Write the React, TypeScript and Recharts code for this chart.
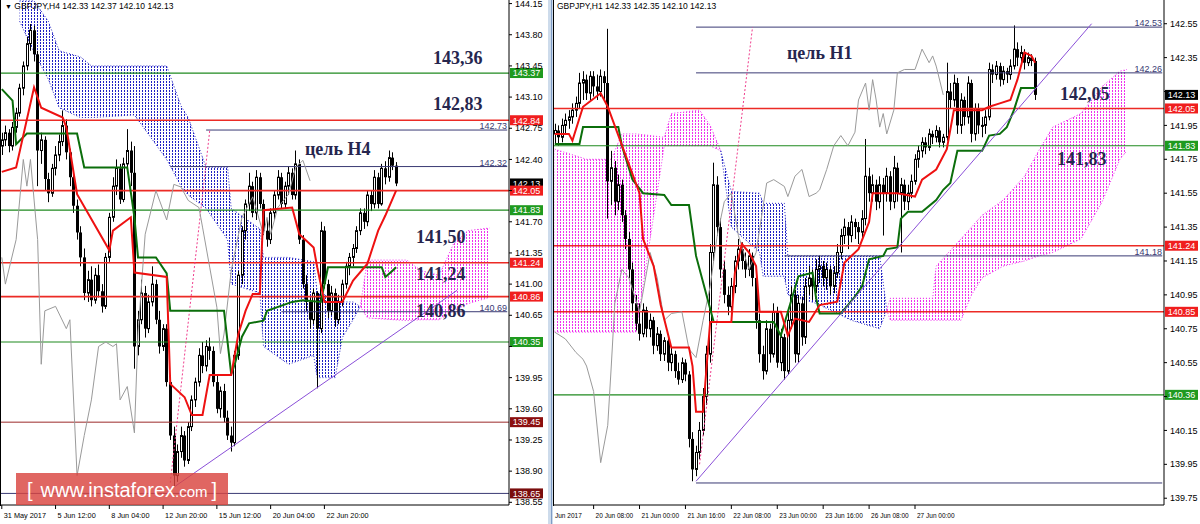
import React from "react";
import { ComposedChart, Bar, Line, Area, XAxis, YAxis, ReferenceLine } from "recharts";

type Candle = [number, number, number, number];
type Pt = [number, number];
type Band = [number, number, number];

// ---------- left panel (H4) ----------
const LEFT_SLOTS = 142;
const LEFT_CANDLES: Candle[] = [
  [142.55, 142.7, 142.45, 142.62], [142.62, 142.78, 142.55, 142.7], [142.7, 142.74, 142.48, 142.55], [142.55, 142.82, 142.5, 142.76],
  [142.76, 142.98, 142.7, 142.92], [142.92, 143.25, 142.88, 143.2], [143.2, 143.5, 143.12, 143.45], [143.45, 143.78, 143.4, 143.7],
  [143.7, 143.92, 143.62, 143.85], [143.85, 143.9, 143.5, 143.58], [143.58, 143.62, 142.1, 142.5], [142.5, 142.7, 142.35, 142.62],
  [142.62, 142.66, 142.05, 142.18], [142.18, 142.25, 141.92, 142.02], [142.02, 142.35, 141.98, 142.3], [142.3, 142.55, 142.22, 142.45],
  [142.45, 142.68, 142.38, 142.6], [142.6, 142.95, 142.55, 142.78], [142.78, 142.85, 142.4, 142.48], [142.48, 142.52, 142.1, 142.2],
  [142.2, 142.28, 141.8, 141.88], [141.88, 141.95, 141.5, 141.58], [141.58, 141.65, 141.2, 141.3], [141.3, 141.4, 140.82, 140.9],
  [140.9, 141.15, 140.8, 141.05], [141.05, 141.2, 140.75, 140.82], [140.82, 141.18, 140.78, 141.1], [141.1, 141.22, 140.85, 140.92],
  [140.92, 141.0, 140.68, 140.75], [140.75, 141.35, 140.72, 141.3], [141.3, 141.8, 141.25, 141.75], [141.75, 142.2, 141.7, 142.1],
  [142.1, 142.4, 142.0, 142.3], [142.3, 142.35, 141.9, 141.95], [141.95, 142.42, 141.92, 142.35], [142.35, 142.74, 142.28, 142.5],
  [142.5, 142.6, 142.1, 142.25], [142.25, 142.55, 140.05, 140.3], [140.3, 140.7, 140.2, 140.6], [140.6, 141.05, 140.55, 140.9],
  [140.9, 140.98, 140.4, 140.5], [140.5, 140.88, 140.45, 140.8], [140.8, 141.2, 140.75, 141.0], [141.0, 141.05, 140.55, 140.6],
  [140.6, 140.7, 140.22, 140.3], [140.3, 140.55, 140.25, 140.5], [140.5, 140.55, 139.85, 139.9], [139.9, 139.98, 139.25, 139.3],
  [139.3, 139.4, 138.73, 138.85], [138.85, 139.2, 138.78, 139.12], [139.12, 139.4, 139.05, 139.3], [139.3, 139.35, 138.95, 139.02],
  [139.02, 139.45, 138.98, 139.4], [139.4, 139.75, 139.35, 139.7], [139.7, 139.95, 139.62, 139.9], [139.9, 140.28, 139.85, 140.2],
  [140.2, 140.35, 140.0, 140.08], [140.08, 140.37, 140.02, 140.3], [140.3, 140.4, 140.15, 140.25], [140.25, 140.3, 139.85, 139.9],
  [139.9, 139.98, 139.55, 139.6], [139.6, 139.85, 139.5, 139.8], [139.8, 139.88, 139.45, 139.5], [139.5, 139.58, 139.25, 139.3],
  [139.3, 139.4, 139.12, 139.22], [139.22, 140.25, 139.18, 140.2], [140.2, 141.15, 140.15, 141.1], [141.1, 141.65, 141.0, 141.6],
  [141.6, 141.95, 141.5, 141.9], [141.9, 142.25, 141.82, 142.1], [142.1, 142.15, 141.75, 141.8], [141.8, 142.28, 141.72, 142.2],
  [142.2, 142.25, 141.85, 141.9], [141.9, 141.95, 141.55, 141.6], [141.6, 141.72, 141.42, 141.5], [141.5, 141.85, 141.45, 141.8],
  [141.8, 142.05, 141.72, 142.0], [142.0, 142.28, 141.95, 142.2], [142.2, 142.25, 141.85, 141.9], [141.9, 142.15, 141.85, 142.1],
  [142.1, 142.32, 142.0, 142.25], [142.25, 142.3, 141.95, 142.0], [142.0, 142.5, 141.95, 142.35], [142.35, 142.4, 141.45, 141.5],
  [141.5, 141.55, 140.95, 141.0], [141.0, 141.1, 140.7, 140.8], [140.8, 140.85, 140.5, 140.6], [140.6, 140.95, 140.55, 140.9],
  [140.9, 140.92, 139.83, 140.5], [140.5, 141.7, 140.45, 141.6], [141.6, 141.65, 140.95, 141.0], [141.0, 141.05, 140.62, 140.7],
  [140.7, 140.98, 140.65, 140.9], [140.9, 140.95, 140.52, 140.6], [140.6, 140.88, 140.55, 140.8], [140.8, 141.05, 140.75, 141.0],
  [141.0, 141.25, 140.95, 141.2], [141.2, 141.35, 141.1, 141.3], [141.3, 141.45, 141.2, 141.4], [141.4, 141.65, 141.35, 141.6],
  [141.6, 141.85, 141.55, 141.8], [141.8, 141.85, 141.62, 141.7], [141.7, 142.05, 141.65, 142.0], [142.0, 142.05, 141.82, 141.9],
  [141.9, 142.28, 141.85, 142.2], [142.2, 142.25, 141.85, 141.9], [141.9, 142.35, 141.88, 142.3], [142.3, 142.38, 142.12, 142.2],
  [142.2, 142.5, 142.15, 142.42], [142.42, 142.48, 142.28, 142.33], [142.33, 142.37, 142.1, 142.13],
];
const LEFT_TENKAN: Pt[] = [
  [0, 142.26], [4, 142.31], [9, 143.21], [11, 142.98], [17, 142.87], [18, 142.76], [21, 142.01], [30, 141.38], [31, 141.6],
  [36, 141.75], [37, 141.13], [46, 141.08], [47, 139.88], [51, 139.73], [53, 139.53], [56, 139.53], [58, 139.98], [64, 139.98],
  [66, 140.44], [68, 140.7], [70, 140.89], [72, 140.89], [73, 141.83], [81, 141.86], [83, 141.56], [87, 141.41], [88, 141.19],
  [90, 140.8], [95, 140.8], [98, 141.04], [102, 141.23], [105, 141.6], [107, 141.77], [110, 142.05],
];
const LEFT_KIJUN: Pt[] = [
  [0, 143.19], [3, 143.06], [4, 142.57], [7, 142.69], [21, 142.69], [23, 142.31], [35, 142.31], [37, 141.75], [38, 141.3],
  [43, 141.3], [46, 141.12], [47, 140.7], [62, 140.7], [64, 139.99], [65, 140.1], [67, 140.41], [69, 140.56], [73, 140.59],
  [74, 140.7], [81, 140.8], [84, 140.82], [89, 140.8], [91, 141.19], [106, 141.19], [107, 141.08], [109, 141.15], [110, 141.19],
];
const LEFT_CHIKOU: Pt[] = [
  [0, 141.3], [1, 141.0], [4, 141.5], [6, 142.4], [7, 142.1], [8, 142.4], [10, 141.5], [11, 140.1], [12, 140.7], [15, 140.75],
  [18, 140.5], [19, 140.6], [21, 138.85], [23, 139.3], [25, 139.7], [27, 140.3], [29, 140.35], [31, 140.3], [32, 140.33],
  [33, 139.7], [35, 139.85], [37, 139.33], [38, 140.45], [40, 141.56], [43, 142.05], [46, 141.72], [48, 142.12], [50, 142.09],
  [52, 141.94], [55, 141.86], [56, 141.64], [58, 141.19], [60, 140.74], [61, 140.22], [62, 140.44], [64, 141.15], [67, 141.75],
  [70, 141.98], [73, 141.56], [74, 141.75], [75, 141.56], [77, 141.86], [80, 142.01], [82, 142.31], [84, 142.39], [86, 142.16],
];
// [bar, upper span, lower span]
const LEFT_CLOUD_DOWN: Band[] = [
  [5, 144.18, 143.95], [9, 144.18, 143.6], [13, 143.95, 143.3], [16, 143.62, 142.98], [22, 143.55, 142.87], [25, 143.45, 142.87],
  [37, 143.45, 142.9], [46, 143.45, 142.4], [50, 143.0, 142.1], [52, 142.87, 142.0], [57, 142.31, 141.85], [63, 142.31, 141.5],
  [64, 141.85, 141.0], [72, 141.62, 140.9], [73, 141.3, 140.3], [80, 141.3, 140.1], [87, 141.25, 140.2], [88, 140.9, 139.95],
  [93, 140.85, 139.95], [95, 140.8, 140.4], [98, 140.8, 140.6], [100, 140.75, 140.75],
];
const LEFT_CLOUD_UP: Band[] = [
  [100, 140.75, 140.75], [102, 141.27, 140.62], [113, 141.27, 140.59], [117, 141.15, 140.6], [122, 141.1, 140.6],
  [126, 141.45, 140.7], [130, 141.6, 140.78], [136, 141.63, 140.85],
];
const LEFT_TICKS = [144.15, 143.8, 143.45, 143.1, 142.75, 142.4, 142.05, 141.7, 141.35, 141.0, 140.65, 140.3, 139.95, 139.6, 139.25, 138.9, 138.55];
const LEFT_HIDDEN_TICKS = [142.05, 140.3];
const LEFT_DATE_AT = [0, 15, 30, 45, 60, 75, 90];
const LEFT_DATES = ["31 May 2017", "5 Jun 12:00", "8 Jun 04:00", "12 Jun 20:00", "15 Jun 12:00", "20 Jun 04:00", "22 Jun 20:00"];
const LEFT_GREEN = [143.37, 141.83, 140.35];
const LEFT_RED = [142.84, 142.05, 141.24, 140.86];
const LEFT_MAROON = [139.45];
const LEFT_NAVY_FULL = [138.65];
const LEFT_NAVY_FROM: Pt[] = [[142.73, 57], [142.32, 47], [140.69, 78]];
const LEFT_TREND: [Pt, Pt] = [[48, 138.72], [127, 140.93]];
const LEFT_PINK_RAY: [Pt, Pt] = [[47, 138.77], [58, 142.72]];

// ---------- right panel (H1) ----------
const RIGHT_SLOTS = 173;
const RIGHT_CANDLES: Candle[] = [
  [141.9, 141.96, 141.84, 141.92], [141.92, 141.95, 141.83, 141.88], [141.88, 141.99, 141.85, 141.95], [141.95, 142.02, 141.9, 141.98],
  [141.98, 142.04, 141.93, 142.0], [142.0, 142.08, 141.96, 142.04], [142.04, 142.12, 142.0, 142.08], [142.08, 142.26, 142.05, 142.2],
  [142.2, 142.27, 142.1, 142.22], [142.22, 142.25, 142.1, 142.14], [142.14, 142.27, 142.1, 142.24], [142.24, 142.27, 142.12, 142.18],
  [142.18, 142.25, 142.1, 142.15], [142.15, 142.28, 142.12, 142.24], [142.24, 142.27, 142.1, 142.2], [142.2, 142.52, 141.4, 141.62],
  [141.62, 141.8, 141.48, 141.7], [141.7, 141.74, 141.42, 141.5], [141.5, 141.66, 141.45, 141.6], [141.6, 141.63, 141.38, 141.42],
  [141.42, 141.45, 141.22, 141.28], [141.28, 141.32, 141.05, 141.1], [141.1, 141.14, 140.85, 140.9], [140.9, 140.95, 140.74, 140.78],
  [140.78, 140.9, 140.68, 140.72], [140.72, 140.9, 140.7, 140.86], [140.86, 140.88, 140.7, 140.75], [140.75, 140.84, 140.7, 140.8],
  [140.8, 140.82, 140.6, 140.65], [140.65, 140.76, 140.62, 140.72], [140.72, 140.74, 140.56, 140.6], [140.6, 140.7, 140.56, 140.68],
  [140.68, 140.7, 140.5, 140.55], [140.55, 140.64, 140.5, 140.6], [140.6, 140.62, 140.46, 140.5], [140.5, 140.55, 140.42, 140.45],
  [140.45, 140.58, 140.43, 140.55], [140.55, 140.57, 140.44, 140.48], [140.48, 140.5, 140.05, 140.1], [140.1, 140.14, 139.85, 139.92],
  [139.92, 140.06, 139.88, 140.02], [140.02, 140.2, 139.98, 140.15], [140.15, 140.4, 140.12, 140.35], [140.35, 140.65, 140.3, 140.6],
  [140.6, 141.25, 140.55, 141.2], [141.2, 141.73, 141.15, 141.6], [141.6, 141.65, 141.3, 141.35], [141.35, 141.4, 141.05, 141.1],
  [141.1, 141.15, 140.9, 140.95], [140.95, 141.0, 140.83, 140.88], [140.88, 141.05, 140.85, 141.0], [141.0, 141.18, 140.96, 141.15],
  [141.15, 141.28, 141.1, 141.22], [141.22, 141.26, 141.1, 141.15], [141.15, 141.2, 141.05, 141.1], [141.1, 141.22, 141.06, 141.18],
  [141.18, 141.2, 141.0, 141.05], [141.05, 141.08, 140.75, 140.8], [140.8, 140.84, 140.55, 140.6], [140.6, 140.65, 140.45, 140.5],
  [140.5, 140.8, 140.48, 140.75], [140.75, 140.78, 140.55, 140.6], [140.6, 140.9, 140.58, 140.85], [140.85, 140.88, 140.52, 140.55],
  [140.55, 140.75, 140.5, 140.7], [140.7, 140.72, 140.45, 140.5], [140.5, 140.85, 140.48, 140.8], [140.8, 141.0, 140.75, 140.95],
  [140.95, 140.98, 140.55, 140.6], [140.6, 140.95, 140.55, 140.9], [140.9, 140.94, 140.65, 140.7], [140.7, 141.05, 140.66, 141.0],
  [141.0, 141.12, 140.95, 141.05], [141.05, 141.1, 140.92, 141.0], [141.0, 141.16, 140.96, 141.1], [141.1, 141.18, 141.02, 141.12],
  [141.12, 141.15, 141.0, 141.05], [141.05, 141.14, 140.98, 141.1], [141.1, 141.12, 140.95, 141.0], [141.0, 141.12, 140.96, 141.08],
  [141.08, 141.25, 141.05, 141.2], [141.2, 141.34, 141.16, 141.3], [141.3, 141.4, 141.25, 141.35], [141.35, 141.38, 141.22, 141.3],
  [141.3, 141.42, 141.26, 141.38], [141.38, 141.4, 141.28, 141.35], [141.35, 141.38, 141.25, 141.32], [141.32, 141.45, 141.28, 141.4],
  [141.4, 141.87, 141.36, 141.65], [141.65, 141.7, 141.5, 141.55], [141.55, 141.66, 141.5, 141.6], [141.6, 141.63, 141.45, 141.5],
  [141.5, 141.65, 141.46, 141.6], [141.6, 141.64, 141.3, 141.55], [141.55, 141.7, 141.5, 141.65], [141.65, 141.68, 141.45, 141.5],
  [141.5, 141.77, 141.46, 141.7], [141.7, 141.73, 141.5, 141.55], [141.55, 141.64, 141.2, 141.6], [141.6, 141.63, 141.45, 141.5],
  [141.5, 141.6, 141.45, 141.55], [141.55, 141.66, 141.52, 141.62], [141.62, 141.78, 141.6, 141.75], [141.75, 141.83, 141.7, 141.8],
  [141.8, 141.88, 141.76, 141.85], [141.85, 141.88, 141.78, 141.82], [141.82, 141.93, 141.8, 141.9], [141.9, 141.92, 141.84, 141.88],
  [141.88, 141.95, 141.85, 141.92], [141.92, 141.94, 141.82, 141.85], [141.85, 141.9, 141.82, 141.88], [141.88, 142.32, 141.86, 142.15],
  [142.15, 142.2, 142.05, 142.1], [142.1, 142.25, 142.06, 142.2], [142.2, 142.23, 141.9, 141.95], [141.95, 142.14, 141.9, 142.1],
  [142.1, 142.12, 141.95, 142.0], [142.0, 142.24, 141.96, 142.2], [142.2, 142.22, 141.85, 141.9], [141.9, 142.08, 141.86, 142.05],
  [142.05, 142.08, 141.9, 141.95], [141.95, 142.0, 141.88, 141.95], [141.95, 142.04, 141.9, 142.0], [142.0, 142.32, 141.98, 142.28],
  [142.28, 142.31, 142.2, 142.25], [142.25, 142.33, 142.22, 142.3], [142.3, 142.32, 142.18, 142.22], [142.22, 142.3, 142.19, 142.27],
  [142.27, 142.29, 142.2, 142.25], [142.25, 142.34, 142.22, 142.3], [142.3, 142.54, 142.28, 142.4], [142.4, 142.44, 142.3, 142.35],
  [142.35, 142.42, 142.32, 142.38], [142.38, 142.4, 142.28, 142.32], [142.32, 142.38, 142.3, 142.35], [142.35, 142.37, 142.3, 142.33],
  [142.33, 142.35, 142.1, 142.13],
];
const RIGHT_TENKAN: Pt[] = [
  [0, 141.9], [4, 141.9], [5, 141.86], [8, 142.06], [13, 142.14], [15, 142.06], [24, 141.55], [25, 141.28], [28, 141.12],
  [30, 140.89], [33, 140.64], [38, 140.64], [39, 140.53], [40, 140.26], [42, 140.26], [43, 140.53], [44, 140.79], [50, 140.79],
  [51, 141.08], [53, 141.25], [55, 141.2], [57, 141.12], [58, 140.85], [64, 140.85], [66, 140.71], [68, 140.81], [72, 140.79],
  [75, 140.89], [80, 140.91], [82, 141.14], [86, 141.22], [89, 141.38], [90, 141.55], [97, 141.55], [102, 141.53], [104, 141.63],
  [108, 141.69], [111, 141.81], [113, 142.04], [121, 142.04], [123, 142.06], [126, 142.08], [129, 142.1], [131, 142.22],
  [133, 142.38], [135, 142.36], [136, 142.32],
];
const RIGHT_KIJUN: Pt[] = [
  [0, 141.84], [7, 141.84], [8, 141.94], [18, 141.94], [19, 141.83], [22, 141.63], [25, 141.55], [31, 141.54], [33, 141.48],
  [38, 141.48], [40, 141.18], [45, 140.79], [62, 140.79], [64, 140.71], [69, 141.06], [73, 141.08], [74, 140.93], [75, 140.84],
  [81, 140.84], [83, 140.89], [85, 140.94], [87, 141.0], [89, 141.16], [93, 141.18], [94, 141.22], [97, 141.23], [98, 141.4],
  [100, 141.44], [104, 141.44], [108, 141.51], [110, 141.57], [112, 141.61], [114, 141.8], [121, 141.8], [123, 141.89],
  [126, 141.9], [128, 141.94], [130, 142.04], [132, 142.17], [136, 142.17],
];
const RIGHT_CHIKOU: Pt[] = [
  [0, 140.73], [3, 140.69], [6, 140.61], [8, 140.57], [9, 140.53], [11, 140.38], [13, 139.96], [15, 140.18], [16, 140.53],
  [17, 140.9], [19, 141.1], [21, 141.05], [24, 140.85], [27, 141.2], [29, 141.05], [31, 140.8], [33, 140.84], [36, 140.85],
  [38, 140.63], [40, 140.58], [42, 140.8], [44, 141.0], [46, 141.3], [48, 141.5], [50, 141.55], [52, 141.3], [55, 141.1],
  [57, 141.2], [60, 141.61], [62, 141.63], [65, 141.59], [66, 141.53], [68, 141.65], [70, 141.69], [72, 141.53], [74, 141.55],
  [75, 141.57], [77, 141.69], [79, 141.83], [81, 141.89], [83, 141.83], [85, 141.91], [86, 142.1], [88, 142.2], [89, 142.04],
  [90, 142.22], [91, 142.1], [92, 141.94], [93, 142.02], [94, 141.9], [96, 142.04], [97, 142.26], [99, 142.28], [102, 142.28],
  [104, 142.4], [106, 142.32], [107, 142.36], [108, 142.3], [110, 142.13],
];
const RIGHT_CLOUD_UP1: Band[] = [
  [0, 141.81, 140.73], [6, 141.77, 140.73], [9, 141.75, 140.73], [16, 141.75, 140.73], [19, 141.9, 140.73], [23, 141.9, 140.73],
  [31, 141.88, 141.83], [33, 142.02, 141.83], [41, 142.04, 141.83], [44, 141.95, 141.83], [47, 141.8, 141.8],
];
const RIGHT_CLOUD_DOWN: Band[] = [
  [47, 141.8, 141.8], [50, 141.56, 141.35], [58, 141.55, 141.2], [59, 141.49, 141.06], [65, 141.49, 141.06], [66, 141.18, 140.95],
  [74, 141.18, 140.9], [84, 141.18, 140.8], [92, 141.18, 140.75], [94, 140.86, 140.86],
];
const RIGHT_CLOUD_UP2: Band[] = [
  [94, 140.86, 140.86], [95, 140.93, 140.8], [107, 140.93, 140.8], [108, 141.12, 140.8], [115, 141.28, 140.8], [118, 141.35, 140.95],
  [121, 141.42, 141.05], [127, 141.51, 141.12], [133, 141.65, 141.15], [137, 141.8, 141.18], [141, 141.94, 141.2],
  [149, 142.02, 141.28], [155, 142.18, 141.5], [160, 142.27, 141.75], [162, 142.28, 141.8],
];
const RIGHT_TICKS = [142.55, 142.35, 142.15, 141.95, 141.75, 141.55, 141.35, 141.15, 140.95, 140.75, 140.55, 140.35, 140.15, 139.95, 139.75];
const RIGHT_HIDDEN_TICKS = [142.15, 140.35];
const RIGHT_DATE_AT = [11, 24, 37, 50, 63, 76, 89, 102];
const RIGHT_DATES = ["20 Jun 08:00", "21 Jun 00:00", "21 Jun 16:00", "22 Jun 08:00", "23 Jun 00:00", "23 Jun 16:00", "26 Jun 08:00", "27 Jun 00:00"];
const RIGHT_GREEN = [141.83, 140.36];
const RIGHT_RED = [142.05, 141.24, 140.85];
const RIGHT_NAVY_FROM: Pt[] = [[142.53, 40], [142.26, 40], [141.18, 65], [139.84, 40]];
const RIGHT_NAVY_NOTES = [142.53, 142.26, 141.18];
const RIGHT_TREND: [Pt, Pt] = [[40, 139.85], [152, 142.55]];
const RIGHT_PINK_RAY: [Pt, Pt] = [[41, 139.95], [56, 142.53]];

const LAST_PRICE = 142.13;

const FONT = "'Liberation Sans', Arial, sans-serif";
const RED = "#ec2b25";
const GREEN = "#1f8a1f";
const NAVY = "#3a3a74";

function buildRows(n: number, candles: Candle[], tenkan: Pt[], kijun: Pt[], chikou: Pt[], clouds: Record<string, Band[]>) {
  const rows: any[] = [];
  for (let i = 0; i < n; i++) {
    const row: any = { i };
    const k = candles[i];
    if (k) {
      row.o = k[0];
      row.h = k[1];
      row.l = k[2];
      row.c = k[3];
    }
    for (const key of Object.keys(clouds)) row[key] = [null, null];
    rows.push(row);
  }
  tenkan.forEach(([b, v]) => (rows[b].tenkan = v));
  kijun.forEach(([b, v]) => (rows[b].kijun = v));
  chikou.forEach(([b, v]) => (rows[b].chikou = v));
  for (const key of Object.keys(clouds)) {
    clouds[key].forEach(([b, top, bottom]) => (rows[b][key] = [bottom, top]));
  }
  return rows;
}

const CandleShape = (props: any) => {
  const { x, y, width, height, payload } = props;
  if (!payload || payload.h == null || !Number.isFinite(y) || !Number.isFinite(height)) return null;
  const cx = Math.floor(x + width / 2) + 0.5;
  const span = payload.h - payload.l || 0.0001;
  const yOf = (v: number) => y + ((payload.h - v) / span) * height;
  const top = yOf(Math.max(payload.o, payload.c));
  const bottom = yOf(Math.min(payload.o, payload.c));
  const up = payload.c >= payload.o;
  return (
    <g>
      <line x1={cx} x2={cx} y1={y} y2={y + height} stroke="#000" strokeWidth={1} />
      {up ? (
        <rect x={cx - 1} y={top} width={2} height={Math.max(1, bottom - top)} fill="#fff" stroke="#000" strokeWidth={1} />
      ) : (
        <rect x={cx - 1.5} y={top} width={3} height={Math.max(1, bottom - top)} fill="#000" />
      )}
    </g>
  );
};

const PriceTag = (props: any) => {
  const { viewBox, text, bg } = props;
  if (!viewBox) return null;
  const right = viewBox.x + viewBox.width;
  return (
    <g>
      <rect x={right + 1} y={viewBox.y - 5} width={33} height={10} fill={bg} />
      <text x={right + 17.5} y={viewBox.y + 3.3} textAnchor="middle" fill="#fff" fontSize={9} fontFamily={FONT}>
        {text}
      </text>
    </g>
  );
};

const LineNote = (props: any) => {
  const { viewBox, text } = props;
  if (!viewBox) return null;
  const right = viewBox.x + viewBox.width;
  return (
    <text x={right - 2} y={viewBox.y - 1} textAnchor="end" fill={NAVY} fontSize={9} fontFamily={FONT}>
      {text}
    </text>
  );
};

const makeDateTick = (at: number[], labels: string[], size: number) => (props: any) => {
  const { x, y, payload } = props;
  const idx = at.indexOf(payload.value);
  if (idx < 0) return null;
  return (
    <text x={x + 2} y={y + 9} textAnchor="start" fill="#000" fontSize={size} fontFamily={FONT}>
      {labels[idx]}
    </text>
  );
};

const makePriceTick = (hidden: number[]) => (props: any) => {
  const { x, y, payload } = props;
  if (hidden.includes(payload.value)) return null;
  return (
    <text x={x} y={y} dy="0.35em" textAnchor="start" fill="#000" fontSize={9} fontFamily={FONT}>
      {Number(payload.value).toFixed(2)}
    </text>
  );
};

type PanelProps = {
  width: number;
  axisWidth: number;
  slots: number;
  rows: any[];
  domain: [number, number];
  ticks: number[];
  hiddenTicks: number[];
  dateAt: number[];
  dates: string[];
  dateFont: number;
  upKeys: string[];
  downKeys: string[];
  idSuffix: string;
  green: number[];
  red: number[];
  maroon: number[];
  navyFull: number[];
  navyFrom: Pt[];
  notes: number[];
  trend: [Pt, Pt];
  pinkRay: [Pt, Pt];
};

const Panel = (p: PanelProps) => {
  const last = p.slots - 1;
  const tag = (v: number, bg: string) => <PriceTag text={v.toFixed(2)} bg={bg} />;
  const lineProps = { type: "linear" as const, connectNulls: true, dot: false, activeDot: false, isAnimationActive: false, strokeLinecap: "butt" as const };
  return (
    <ComposedChart
      width={p.width}
      height={524}
      data={p.rows}
      margin={{ top: 0, right: 0, bottom: 0, left: 0 }}
      barCategoryGap={0}
      barGap={0}
    >
      <defs>
        <pattern id={`dotsBlue${p.idSuffix}`} width={3} height={3} patternUnits="userSpaceOnUse">
          <rect x={1} y={0} width={1} height={2} fill="#2020c4" />
        </pattern>
        <pattern id={`dotsPink${p.idSuffix}`} width={3} height={3} patternUnits="userSpaceOnUse">
          <rect x={1} y={0} width={1} height={2} fill="#ee30ee" />
        </pattern>
      </defs>
      <XAxis
        dataKey="i"
        type="category"
        ticks={p.dateAt}
        interval={0}
        height={19}
        tickSize={4}
        tickMargin={0}
        tickLine={{ stroke: "#000" }}
        axisLine={{ stroke: "#000" }}
        tick={makeDateTick(p.dateAt, p.dates, p.dateFont)}
      />
      <YAxis
        orientation="right"
        type="number"
        domain={p.domain}
        allowDataOverflow
        ticks={p.ticks}
        interval={0}
        width={p.axisWidth}
        tickSize={3}
        tickMargin={3}
        tickLine={{ stroke: "#000" }}
        axisLine={{ stroke: "#000" }}
        tick={makePriceTick(p.hiddenTicks)}
      />
      {p.downKeys.map((k) => (
        <Area
          key={k}
          dataKey={k}
          type="linear"
          connectNulls
          dot={false}
          activeDot={false}
          fill={`url(#dotsBlue${p.idSuffix})`}
          fillOpacity={1}
          stroke="#2020c4"
          strokeWidth={1}
          strokeDasharray="1 2"
          isAnimationActive={false}
        />
      ))}
      {p.upKeys.map((k) => (
        <Area
          key={k}
          dataKey={k}
          type="linear"
          connectNulls
          dot={false}
          activeDot={false}
          fill={`url(#dotsPink${p.idSuffix})`}
          fillOpacity={1}
          stroke="#ee30ee"
          strokeWidth={1}
          strokeDasharray="1 2"
          isAnimationActive={false}
        />
      ))}
      {p.navyFull.map((v) => (
        <ReferenceLine key={`nf${v}`} y={v} stroke={NAVY} strokeWidth={1} label={tag(v, "#7a0d0d")} />
      ))}
      {p.navyFrom.map(([v, from]) => (
        <ReferenceLine key={`ns${v}`} segment={[{ x: from, y: v }, { x: last, y: v }]} stroke={NAVY} strokeWidth={1} />
      ))}
      {p.notes.map((v) => (
        <ReferenceLine key={`nn${v}`} y={v} stroke="none" strokeOpacity={0} label={<LineNote text={v.toFixed(2)} />} />
      ))}
      {p.maroon.map((v) => (
        <ReferenceLine key={`m${v}`} y={v} stroke="#9b2a2a" strokeWidth={1} label={tag(v, "#8b0e0e")} />
      ))}
      {p.green.map((v) => (
        <ReferenceLine key={`g${v}`} y={v} stroke={GREEN} strokeWidth={1.2} label={tag(v, "#1f9a1f")} />
      ))}
      <ReferenceLine y={LAST_PRICE} stroke="none" strokeOpacity={0} label={tag(LAST_PRICE, "#000")} />
      {p.red.map((v) => (
        <ReferenceLine key={`r${v}`} y={v} stroke={RED} strokeWidth={1.6} label={tag(v, "#f01e1e")} />
      ))}
      <ReferenceLine
        segment={[{ x: p.pinkRay[0][0], y: p.pinkRay[0][1] }, { x: p.pinkRay[1][0], y: p.pinkRay[1][1] }]}
        stroke="#f03c8c"
        strokeDasharray="2 2"
        strokeWidth={1}
      />
      <Line dataKey="chikou" {...lineProps} stroke="#9a9a9a" strokeWidth={1} />
      <Bar dataKey={(d: any) => (d.h != null ? [d.l, d.h] : undefined)} shape={<CandleShape />} isAnimationActive={false} />
      <Line dataKey="kijun" {...lineProps} stroke="#0b6e0b" strokeWidth={2} />
      <Line dataKey="tenkan" {...lineProps} stroke="#ee1111" strokeWidth={2} />
      <ReferenceLine
        segment={[{ x: p.trend[0][0], y: p.trend[0][1] }, { x: p.trend[1][0], y: p.trend[1][1] }]}
        stroke="#8a4fd8"
        strokeWidth={1}
      />
    </ComposedChart>
  );
};

const TITLE = { fontFamily: "'Liberation Serif', 'Times New Roman', serif", fontWeight: 700, fontSize: 18, fill: "#26264e" } as const;

export default function App() {
  const leftRows = buildRows(LEFT_SLOTS, LEFT_CANDLES, LEFT_TENKAN, LEFT_KIJUN, LEFT_CHIKOU, {
    cloudDown: LEFT_CLOUD_DOWN,
    cloudUp: LEFT_CLOUD_UP,
  });
  const rightRows = buildRows(RIGHT_SLOTS, RIGHT_CANDLES, RIGHT_TENKAN, RIGHT_KIJUN, RIGHT_CHIKOU, {
    cloudUp1: RIGHT_CLOUD_UP1,
    cloudDown: RIGHT_CLOUD_DOWN,
    cloudUp2: RIGHT_CLOUD_UP2,
  });

  return (
    <div style={{ position: "absolute", left: 0, top: 0, width: 1200, height: 524, background: "#fff", overflow: "hidden" }}>
      <div style={{ position: "absolute", left: 0, top: 0 }}>
        <Panel
          width={548}
          axisWidth={39}
          slots={LEFT_SLOTS}
          rows={leftRows}
          domain={[138.52, 144.19]}
          ticks={LEFT_TICKS}
          hiddenTicks={LEFT_HIDDEN_TICKS}
          dateAt={LEFT_DATE_AT}
          dates={LEFT_DATES}
          dateFont={7.3}
          upKeys={["cloudUp"]}
          downKeys={["cloudDown"]}
          idSuffix="L"
          green={LEFT_GREEN}
          red={LEFT_RED}
          maroon={LEFT_MAROON}
          navyFull={LEFT_NAVY_FULL}
          navyFrom={LEFT_NAVY_FROM}
          notes={LEFT_NAVY_FROM.map((d) => d[0])}
          trend={LEFT_TREND}
          pinkRay={LEFT_PINK_RAY}
        />
      </div>
      <div style={{ position: "absolute", left: 553, top: 0 }}>
        <Panel
          width={647}
          axisWidth={36}
          slots={RIGHT_SLOTS}
          rows={rightRows}
          domain={[139.71, 142.69]}
          ticks={RIGHT_TICKS}
          hiddenTicks={RIGHT_HIDDEN_TICKS}
          dateAt={RIGHT_DATE_AT}
          dates={RIGHT_DATES}
          dateFont={6.5}
          upKeys={["cloudUp1", "cloudUp2"]}
          downKeys={["cloudDown"]}
          idSuffix="R"
          green={RIGHT_GREEN}
          red={RIGHT_RED}
          maroon={[]}
          navyFull={[]}
          navyFrom={RIGHT_NAVY_FROM}
          notes={RIGHT_NAVY_NOTES}
          trend={RIGHT_TREND}
          pinkRay={RIGHT_PINK_RAY}
        />
      </div>
      <svg width={1200} height={524} style={{ position: "absolute", left: 0, top: 0, pointerEvents: "none" }}>
        <line x1={0.5} x2={0.5} y1={0} y2={506} stroke="#000" />
        <rect x={548} y={0} width={5} height={524} fill="#cddbeb" />
        <line x1={551.5} x2={551.5} y1={0} y2={524} stroke="#7f9cc6" />
        <line x1={553.5} x2={553.5} y1={0} y2={506} stroke="#000" />
        <text x={5} y={9} fontSize={8.5} fontFamily={FONT} fill="#000">
          <tspan fontSize={7}>▼</tspan> GBPJPY,H4  142.33 142.37 142.10 142.13
        </text>
        <text x={557} y={9} fontSize={8.5} fontFamily={FONT} fill="#000">
          GBPJPY,H1  142.33 142.35 142.10 142.13
        </text>
        <text x={555} y={518} fontSize={6.5} fontFamily={FONT} fill="#000">
          Jun 2017
        </text>
        <text x={433} y={64} {...TITLE}>143,36</text>
        <text x={433} y={110} {...TITLE}>142,83</text>
        <text x={305} y={155} {...TITLE}>цель H4</text>
        <text x={416} y={243} {...TITLE}>141,50</text>
        <text x={416} y={280} {...TITLE}>141,24</text>
        <text x={416} y={317} {...TITLE}>140,86</text>
        <text x={787} y={59} {...TITLE}>цель H1</text>
        <text x={1060} y={100} {...TITLE}>142,05</text>
        <text x={1057} y={165} {...TITLE}>141,83</text>
        <rect x={16} y={473} width={212} height={32} fill="#d9443f" fillOpacity={0.82} />
        <text x={27} y={497} fill="#fff" fontFamily={FONT} fontSize={20}>
          [<tspan dx={8}>www.instaforex</tspan>
          <tspan fontSize={15}>.com</tspan>
          <tspan dx={4}>]</tspan>
        </text>
      </svg>
    </div>
  );
}
